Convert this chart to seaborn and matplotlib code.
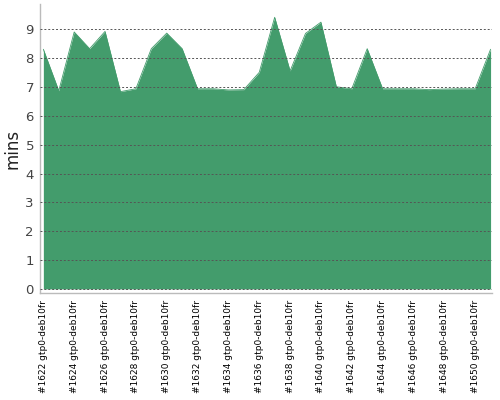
import matplotlib
matplotlib.use("Agg")
import matplotlib.pyplot as plt
import seaborn as sns
import pandas as pd

# build numbers and durations (minutes)
builds = list(range(1622, 1652))
mins = [8.31, 6.87, 8.91, 8.33, 8.93, 6.84, 6.94, 8.33, 8.87, 8.33,
        6.94, 6.94, 6.90, 6.91, 7.51, 9.42, 7.56, 8.86, 9.25, 7.01,
        6.94, 8.33, 6.94, 6.94, 6.94, 6.91, 6.93, 6.94, 6.94, 8.31]
labels = ["#%d gtp0-deb10fr" % b for b in builds]

df = pd.DataFrame({"idx": range(len(builds)), "mins": mins})

sns.set_style("white")
fig = plt.figure(figsize=(5, 4), dpi=100)
ax = fig.add_axes([0.079, 0.267, 0.904, 0.723])

green = "#439c6c"
sns.lineplot(data=df, x="idx", y="mins", color=green, linewidth=0.6, ax=ax)
ax.fill_between(df["idx"], 0, df["mins"], color=green, linewidth=0)

ax.set_xlim(-0.25, 29.06)
ax.set_ylim(-0.15, 9.88)
ax.set_yticks(range(0, 10))
ax.yaxis.grid(True, linestyle=(0, (2, 2)), color="#555555", linewidth=0.7)
ax.set_axisbelow(False)

ax.set_xticks(df["idx"])
ax.set_xticklabels([l if i % 2 == 0 else "" for i, l in enumerate(labels)],
                   rotation=90, fontsize=6.5, color="black")
ax.tick_params(axis="x", length=3, color="#aaaaaa", width=0.8, pad=2)
ax.tick_params(axis="y", length=0, labelsize=9.5, labelcolor="#444444", pad=4)

ax.set_xlabel("")
ax.set_ylabel("mins", fontsize=12, color="#222222", labelpad=3)
for side in ["top", "right"]:
    ax.spines[side].set_visible(False)
for side in ["left", "bottom"]:
    ax.spines[side].set_color("#bbbbbb")
    ax.spines[side].set_linewidth(1)

fig.savefig("out.png", dpi=100)
